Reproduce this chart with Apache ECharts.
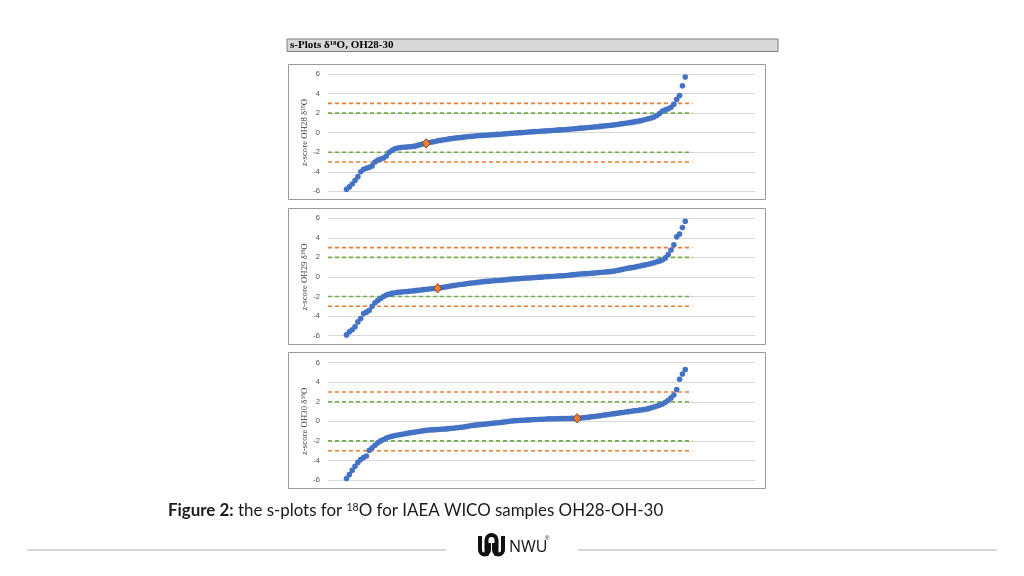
<!DOCTYPE html>
<html><head><meta charset="utf-8">
<script src="https://cdn.jsdelivr.net/npm/echarts@6/dist/echarts.min.js"></script>
<style>html,body{margin:0;padding:0;background:#fff}#c{width:1024px;height:576px}</style>
</head><body><div id="c"></div>
<script>
// ---- data ----
const panelNames = ['OH28', 'OH29', 'OH30'];
const oh28 = [-5.8,-5.55,-5.25,-4.9,-4.5,-4.0,-3.75,-3.65,-3.55,-3.4,
  -3.0,-2.8,-2.7,-2.6,-2.4,-2.0,-1.8,-1.65,-1.58,-1.53,
  -1.5,-1.47,-1.45,-1.42,-1.38,-1.3,-1.22,-1.15,-1.1,-1.02,
  -0.96,-0.9,-0.84,-0.79,-0.74,-0.7,-0.64,-0.6,-0.56,-0.53,
  -0.5,-0.46,-0.42,-0.4,-0.38,-0.35,-0.32,-0.3,-0.28,-0.26,
  -0.24,-0.22,-0.2,-0.18,-0.16,-0.14,-0.11,-0.08,-0.06,-0.04,
  -0.02,0.0,0.02,0.04,0.06,0.08,0.1,0.12,0.14,0.16,
  0.18,0.2,0.22,0.24,0.26,0.28,0.3,0.32,0.34,0.37,
  0.4,0.43,0.46,0.48,0.5,0.52,0.55,0.58,0.61,0.64,
  0.67,0.7,0.73,0.76,0.8,0.84,0.88,0.92,0.96,1.0,
  1.05,1.1,1.15,1.2,1.27,1.35,1.42,1.5,1.6,1.75,
  1.95,2.2,2.35,2.45,2.6,2.9,3.4,3.8,4.8,5.7];
const oh29 = [-5.93,-5.6,-5.4,-5.1,-4.6,-4.25,-3.75,-3.6,-3.4,-3.0,
  -2.65,-2.4,-2.2,-2.0,-1.85,-1.76,-1.68,-1.62,-1.58,-1.55,
  -1.52,-1.49,-1.46,-1.43,-1.4,-1.37,-1.34,-1.3,-1.26,-1.24,
  -1.21,-1.18,-1.16,-1.11,-1.06,-1.0,-0.95,-0.9,-0.86,-0.82,
  -0.78,-0.74,-0.69,-0.65,-0.62,-0.59,-0.55,-0.52,-0.48,-0.45,
  -0.43,-0.41,-0.38,-0.36,-0.33,-0.31,-0.28,-0.25,-0.22,-0.2,
  -0.18,-0.16,-0.14,-0.12,-0.1,-0.08,-0.06,-0.04,-0.02,0.0,
  0.02,0.03,0.05,0.07,0.09,0.11,0.13,0.15,0.18,0.21,
  0.24,0.27,0.3,0.32,0.34,0.36,0.38,0.4,0.42,0.45,
  0.48,0.51,0.54,0.57,0.6,0.66,0.72,0.78,0.84,0.9,
  0.95,1.0,1.06,1.12,1.18,1.24,1.3,1.38,1.46,1.55,
  1.64,1.74,1.95,2.3,2.75,3.3,4.1,4.4,5.05,5.7];
const oh30 = [-5.85,-5.45,-5.0,-4.6,-4.2,-3.9,-3.7,-3.55,-2.95,-2.7,
  -2.45,-2.2,-2.0,-1.85,-1.7,-1.6,-1.52,-1.46,-1.4,-1.35,
  -1.3,-1.25,-1.18,-1.14,-1.1,-1.06,-1.0,-0.96,-0.92,-0.89,
  -0.87,-0.85,-0.83,-0.81,-0.79,-0.77,-0.74,-0.71,-0.68,-0.65,
  -0.62,-0.58,-0.53,-0.48,-0.43,-0.39,-0.36,-0.33,-0.3,-0.27,
  -0.24,-0.21,-0.18,-0.15,-0.12,-0.08,-0.04,0.0,0.04,0.07,
  0.09,0.1,0.12,0.13,0.15,0.16,0.18,0.19,0.21,0.22,
  0.24,0.25,0.26,0.27,0.27,0.28,0.28,0.29,0.29,0.3,
  0.3,0.31,0.34,0.37,0.4,0.43,0.47,0.5,0.54,0.58,
  0.62,0.66,0.7,0.75,0.79,0.83,0.87,0.91,0.95,0.99,
  1.03,1.07,1.11,1.15,1.19,1.23,1.3,1.38,1.46,1.56,
  1.66,1.78,1.95,2.15,2.4,2.7,3.25,4.3,4.85,5.3];
const labRank = [28, 32, 81];          // position of the lab's own result in the ranking
const labZ = [-1.1, -1.16, 0.31];
const orangeLimits = [3, -3];
const greenLimits = [2, -2];
const yMin = -6, yMax = 6, yStep = 2;

// ---- layout ----
const seriesData = [oh28, oh29, oh30];
const gridTops = [74, 218.3, 362.7];
const gridH = 117.3;
const X_OFF = 6.5, X_MAX = 150, LIM_END = 128;
const boxes = [[288, 64, 477, 135], [288, 208, 477, 136], [288, 352, 477, 136]];

const grids = [], xAxes = [], yAxes = [], series = [];
seriesData.forEach((vals, p) => {
  grids.push({left: 328, top: gridTops[p], width: 427, height: gridH});
  xAxes.push({gridIndex: p, type: 'value', min: 0, max: X_MAX, show: false});
  yAxes.push({
    gridIndex: p, type: 'value', min: yMin, max: yMax, interval: yStep,
    axisLine: {show: false}, axisTick: {show: false},
    axisLabel: {fontSize: 7.5, color: '#505050', margin: 8, fontFamily: 'Liberation Sans'},
    splitLine: {lineStyle: {color: '#d9d9d9', width: 1}},
    name: 'z-score ' + panelNames[p] + ' δ{s|18}O',
    nameLocation: 'middle', nameGap: 14, nameRotate: 90,
    nameTextStyle: {fontSize: 8.8, color: '#404040', fontFamily: 'Liberation Serif',
      rich: {s: {fontSize: 5.5, color: '#404040', fontFamily: 'Liberation Serif', verticalAlign: 'top'}}}
  });
  const mkLimit = (v, color) => ({
    type: 'line', xAxisIndex: p, yAxisIndex: p, data: [[0, v], [LIM_END, v]],
    symbol: 'none', silent: true, z: 2,
    lineStyle: {color: color, width: 1.6, type: [4, 3]}
  });
  orangeLimits.forEach(v => series.push(mkLimit(v, '#ED7D31')));
  greenLimits.forEach(v => series.push(mkLimit(v, '#70AD47')));
  series.push({
    type: 'scatter', xAxisIndex: p, yAxisIndex: p, z: 3,
    data: vals.map((v, i) => [i + X_OFF, v]),
    symbolSize: 5.6, itemStyle: {color: '#4472C4', opacity: 1}
  });
  series.push({
    type: 'scatter', xAxisIndex: p, yAxisIndex: p, z: 4,
    data: [[labRank[p] + X_OFF, labZ[p]]],
    symbol: 'diamond', symbolSize: [8, 9.5],
    itemStyle: {color: '#ED7D31', borderColor: '#7a3a10', borderWidth: 0.8, opacity: 1}
  });
});

const ink = {fill: 'none', stroke: '#111', lineWidth: 4};
const seg = (x1, y1, x2, y2) => ({type: 'line', shape: {x1, y1, x2, y2}, style: ink});
const arc = (cx, cy, r, a0, a1) => ({type: 'arc', shape: {cx, cy, r, startAngle: a0, endAngle: a1, clockwise: true}, style: ink});

const graphic = [
  {type: 'rect', shape: {x: 287, y: 39, width: 491, height: 12.5},
   style: {fill: '#d9d9d9', stroke: '#7f7f7f', lineWidth: 1}, z: 1},
  {type: 'text', x: 290, y: 45.5, z: 2,
   style: {text: 's-Plots δ{s|18}O, OH28-30', font: 'bold 11px "Liberation Serif"', fill: '#000',
     verticalAlign: 'middle',
     rich: {s: {fontSize: 7, fontWeight: 'bold', fontFamily: 'Liberation Serif', verticalAlign: 'top'}}}},
  ...boxes.map(b => ({type: 'rect', shape: {x: b[0] + 0.5, y: b[1] + 0.5, width: b[2], height: b[3]},
     style: {fill: 'none', stroke: '#9a9a9a', lineWidth: 1}, z: 1})),
  {type: 'text', x: 168, y: 511, z: 2,
   style: {text: '{b|Figure 2:} the s-plots for {s|18}O for IAEA WICO samples OH28-OH-30',
     font: '16.9px Lato', fill: '#1a1a1a', verticalAlign: 'middle',
     rich: {b: {fontWeight: 'bold', fontSize: 16.9, fontFamily: 'Lato', fill: '#1a1a1a'},
            s: {fontSize: 10.5, fontFamily: 'Lato', verticalAlign: 'top'}}}},
  {type: 'line', shape: {x1: 27, y1: 550, x2: 446, y2: 550}, style: {stroke: '#c9c9c9', lineWidth: 1.5}},
  {type: 'line', shape: {x1: 578, y1: 550, x2: 997, y2: 550}, style: {stroke: '#c9c9c9', lineWidth: 1.5}},
  // NWU emblem (approximate)
  seg(480, 536, 480, 550), arc(484.5, 550, 4.5, 0, Math.PI), seg(489, 550, 489, 543),
  seg(486.5, 556, 486.5, 540), arc(491.5, 540, 5, Math.PI, 2 * Math.PI), seg(496.5, 540, 496.5, 556),
  seg(494, 543, 494, 550), arc(498.5, 550, 4.5, 0, Math.PI), seg(503, 550, 503, 536),
  {type: 'text', x: 509, y: 547, style: {text: 'NWU', font: '500 16px "Open Sans"', fill: '#111', verticalAlign: 'middle'}},
  {type: 'text', x: 545, y: 538, style: {text: '®', font: '6px "Liberation Sans"', fill: '#111', verticalAlign: 'middle'}}
];

const chart = echarts.init(document.getElementById('c'), null, {renderer: 'canvas'});
chart.setOption({
  animation: false,
  backgroundColor: '#ffffff',
  grid: grids, xAxis: xAxes, yAxis: yAxes, series: series, graphic: graphic
});
</script></body></html>
